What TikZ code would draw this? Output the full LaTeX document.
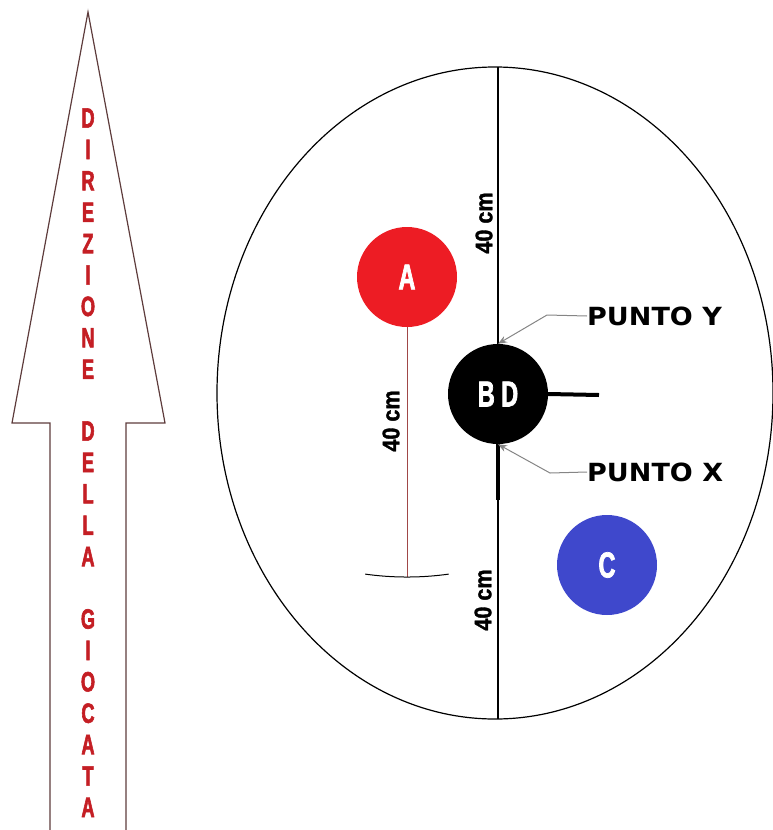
\documentclass[tikz,border=0pt]{standalone}
\usepackage{fontspec}
\usetikzlibrary{arrows.meta}
\newfontfamily\impactfont{Liberation Sans}[FakeStretch=0.65,FakeBold=2]
\newfontfamily\cmfont{Liberation Sans}[FakeStretch=0.9,FakeBold=1.5]
\newfontfamily\puntofont{DejaVu Sans}[FakeStretch=1.08]
\definecolor{lettered}{HTML}{C41E24}
\definecolor{arrowbrown}{HTML}{5E3C3C}
\definecolor{ballred}{HTML}{ED1C24}
\definecolor{ballblue}{HTML}{3F48CC}
\definecolor{threadred}{HTML}{A04848}
\definecolor{leadergray}{HTML}{858585}
\begin{document}
\begin{tikzpicture}[x=1pt,y=-1pt,
  ball/.style={circle, minimum size=100pt, inner sep=0pt, text=white, font=\impactfont\bfseries\fontsize{36}{36}\selectfont},
  letter/.style={inner sep=0pt, text=lettered, font=\impactfont\bfseries\fontsize{28}{28}\selectfont},
  cmlabel/.style={rotate=90, inner sep=0pt, font=\cmfont\bfseries\fontsize{24}{24}\selectfont},
  punto/.style={anchor=west, inner sep=0pt, font=\puntofont\bfseries\fontsize{25}{25}\selectfont},
  leader/.style={draw=leadergray, line width=1pt, -{Stealth[length=9pt,width=7pt]}}]
\useasboundingbox (0,0) rectangle (773,830);
% direction arrow
\draw[arrowbrown, line width=1.2pt] (50,834) -- (50,423) -- (12,423) -- (88,12) -- (165,423) -- (126,423) -- (126,834);
\foreach \ch [count=\k from 0] in {D,I,R,E,Z,I,O,N,E}
  \node[letter] (dir\k) at (88,118+31.4*\k) {\ch};
\foreach \ch [count=\k from 0] in {D,E,L,L,A}
  \node[letter] (del\k) at (88,431+31.4*\k) {\ch};
\foreach \ch [count=\k from 0] in {G,I,O,C,A,T,A}
  \node[letter] (gio\k) at (88,619+31.4*\k) {\ch};
% house
\draw[line width=1.2pt] (495,393) ellipse [x radius=278, y radius=326];
\coordinate (ltop) at (498,67);
\coordinate (lbot) at (498,719);
\draw[line width=1.2pt] (ltop) -- (lbot);
\node[ball, fill=ballred] (nA) at (407,277) {A};
\node[ball, fill=black] (nBD) at (498,394) {B D};
\node[ball, fill=ballblue] (nC) at (607,565) {C};
\coordinate (aend) at (407,577);
\draw[threadred, line width=1pt] (nA.south) -- (aend);
\draw[line width=1pt] (365.2,574.1) arc[start angle=262, end angle=278, radius=300pt];
\coordinate (hend) at (599,395);
\coordinate (vend) at (498,500);
\draw[line width=4pt] (nBD.east) -- (hend);
\draw[line width=4pt] (nBD.south) -- (vend);
% measures
\node[cmlabel] (cm1) at (484,223) {40 cm};
\node[cmlabel] (cm2) at (391,421) {40 cm};
\node[cmlabel] (cm3) at (483,600) {40 cm};
% points
\node[punto] (py) at (587,316) {PUNTO Y};
\node[punto] (px) at (587,472) {PUNTO X};
\coordinate (ykink) at (547,315);
\coordinate (xkink) at (550,473);
\draw[leader] (py.west) -- (ykink) -- (nBD.north);
\draw[leader] (px.west) -- (xkink) -- (nBD.south);
\end{tikzpicture}
\end{document}
